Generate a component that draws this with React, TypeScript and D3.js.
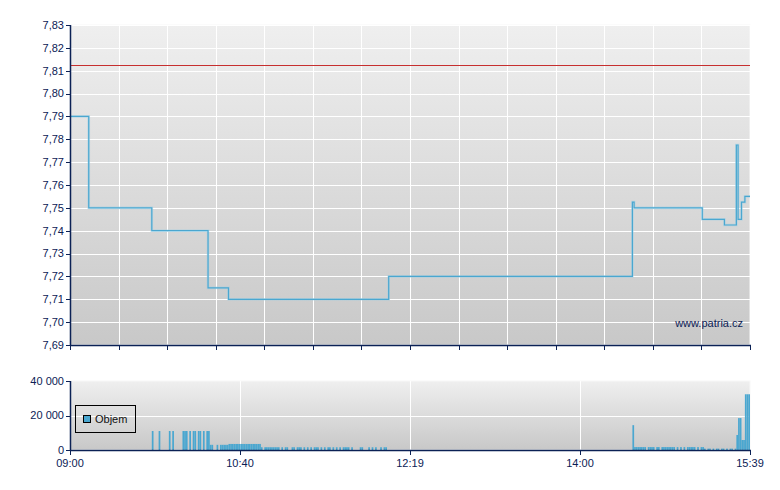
import React from "react";
import * as d3 from "d3";

// ---- data ----
const priceTimes = ["09:00", "09:11", "09:48", "10:21", "10:33", "12:07", "14:30", "14:31", "15:11", "15:24", "15:31", "15:32", "15:34", "15:36", "15:39"];
const priceValues = [7.79, 7.75, 7.74, 7.715, 7.71, 7.72, 7.7525, 7.75, 7.745, 7.7425, 7.7775, 7.745, 7.7525, 7.755, 7.755];
const referencePrice = 7.8125;

const priceTicks = [7.69, 7.7, 7.71, 7.72, 7.73, 7.74, 7.75, 7.76, 7.77, 7.78, 7.79, 7.8, 7.81, 7.82, 7.83];
const volumeTicks = [0, 20000, 40000];
const volumeTickLabels = ["0", "20 000", "40 000"];
const timeLabels = ["09:00", "10:40", "12:19", "14:00", "15:39"];

const volumeTimes = [
  "09:48", "09:52", "09:58", "10:00", "10:06", "10:07", "10:08", "10:10", "10:12", "10:13", "10:15", "10:16", "10:18", "10:20", "10:21",
  "10:22", "10:23", "10:26", "10:28", "10:29", "10:30", "10:31", "10:32",
  "10:33", "10:34", "10:35", "10:36", "10:37", "10:38", "10:39", "10:40", "10:41", "10:42", "10:43", "10:44", "10:45", "10:46", "10:47", "10:48", "10:49", "10:50", "10:51",
  "10:52", "10:54", "10:55", "10:56", "10:57", "10:58", "10:59", "11:00", "11:01", "11:02", "11:04", "11:06", "11:07", "11:10", "11:11", "11:13", "11:14", "11:15",
  "11:17", "11:19", "11:21", "11:23", "11:24", "11:25", "11:27", "11:29", "11:31", "11:32", "11:34", "11:36", "11:38", "11:40", "11:41", "11:42", "11:43", "11:45",
  "11:50", "11:51", "11:55", "11:57", "11:59", "12:02", "12:04", "12:05",
  "14:30", "14:31", "14:32", "14:33", "14:34", "14:35", "14:36", "14:37", "14:39", "14:40", "14:41", "14:42", "14:44", "14:45", "14:47", "14:48", "14:49", "14:50",
  "14:51", "14:52", "14:53", "14:54", "14:56", "14:58", "15:00", "15:02", "15:03", "15:04", "15:05", "15:06", "15:08", "15:10",
  "15:11", "15:12", "15:14", "15:15", "15:17", "15:19", "15:20", "15:22", "15:23", "15:25", "15:27", "15:28", "15:30",
  "15:31", "15:32", "15:33", "15:34", "15:35", "15:36", "15:37", "15:38",
];
const volumeValues = [
  11000, 11000, 11000, 11000, 11000, 11000, 11000, 11000, 11000, 11000, 11000, 11000, 11000, 11000, 11000,
  3000, 3000, 3000, 3000, 3000, 3000, 3000, 3000,
  3500, 3500, 3500, 3500, 3500, 3500, 3500, 3500, 3500, 3500, 3500, 3500, 3500, 3500, 3500, 3500, 3500, 3500, 3500,
  1600, 1600, 1600, 1600, 1600, 1600, 1600, 1600, 1600, 1600, 1600, 1600, 1600, 1600, 1600, 1600, 1600, 1600,
  1600, 1600, 1600, 1600, 1600, 1600, 1600, 1600, 1600, 1600, 1600, 1600, 1600, 1600, 1600, 1600, 1600, 1600,
  1600, 1600, 1600, 1600, 1600, 1600, 1600, 1600,
  14400, 1700, 1700, 1700, 1700, 1700, 1700, 1700, 1700, 1700, 1700, 1700, 1700, 1700, 1700, 1700, 1700, 1700,
  1700, 1700, 1700, 1700, 1700, 1700, 1700, 1700, 1700, 1700, 1700, 1700, 1700, 1700,
  1700, 800, 800, 800, 800, 800, 800, 800, 800, 800, 800, 800, 800,
  8700, 18500, 18500, 5800, 5800, 32300, 32300, 32300,
];

// ---- helpers ----
const toMin = (s: string) => {
  const [h, m] = s.split(":").map(Number);
  return (h - 9) * 60 + m;
};
const SESSION = toMin("15:39");

const NAVY = "#0b2155";
const BLUE = "#4aa7d0";
const FONT = "'Liberation Sans', Arial, sans-serif";

export default function App() {
  const left = 70, right = 750;
  const mTop = 25, mBottom = 345;
  const vTop = 381, vBottom = 450;

  const x = d3.scaleLinear().domain([0, SESSION]).range([left, right]);
  const y = d3.scaleLinear().domain([7.69, 7.83]).range([mBottom, mTop]);
  const yv = d3.scaleLinear().domain([0, 40000]).range([vBottom, vTop]);

  const pts = priceTimes.map((t, i) => [toMin(t), priceValues[i]] as [number, number]);
  const line = d3
    .line<[number, number]>()
    .x((d) => x(d[0]))
    .y((d) => y(d[1]))
    .curve(d3.curveStepAfter)(pts) as string;

  const gridCount = 14;
  const vGrid = d3.range(gridCount + 1).map((i) => x((SESSION * i) / gridCount));
  const labelPos = timeLabels.map((_, i) => x((SESSION * i) / (timeLabels.length - 1)));
  const fmt = (v: number) => d3.format(".2f")(v).replace(".", ",");
  const minW = x(1) - x(0);
  const refY = Math.round(y(referencePrice)) + 0.5;

  return (
    <svg width={780} height={490} style={{ position: "absolute", left: 0, top: 0 }} fontFamily={FONT}>
      <defs>
        <linearGradient id="gMain" x1="0" y1="0" x2="0" y2="1">
          <stop offset="0" stopColor="#efefef" />
          <stop offset="1" stopColor="#c8c8c8" />
        </linearGradient>
        <linearGradient id="gVol" x1="0" y1="0" x2="0" y2="1">
          <stop offset="0" stopColor="#efefef" />
          <stop offset="1" stopColor="#c8c8c8" />
        </linearGradient>
      </defs>
      <rect width={780} height={490} fill="#fff" />

      {/* main plot */}
      <rect x={left} y={mTop} width={right - left} height={mBottom - mTop} fill="url(#gMain)" stroke="#f8f8f8" />
      {priceTicks.map((t) => (
        <line key={"hg" + t} x1={left} x2={right} y1={Math.round(y(t)) + 0.5} y2={Math.round(y(t)) + 0.5} stroke="#fff" />
      ))}
      {vGrid.map((gx, i) => (
        <line key={"vg" + i} x1={Math.round(gx) + 0.5} x2={Math.round(gx) + 0.5} y1={mTop} y2={mBottom} stroke="#fff" />
      ))}
      <line x1={left} x2={right} y1={refY} y2={refY} stroke="#c62f2f" strokeWidth={1} />
      <path d={line} fill="none" stroke="#9fcfe5" strokeWidth={2.6} strokeOpacity={0.55} />
      <path d={line} fill="none" stroke={BLUE} strokeWidth={1.2} />
      <text x={743} y={326.5} textAnchor="end" fontSize={11} fill={NAVY}>www.patria.cz</text>

      {/* main axes */}
      <line x1={left + 0.5} x2={left + 0.5} y1={mTop} y2={mBottom} stroke={NAVY} strokeWidth={1.5} />
      <line x1={left} x2={right + 1} y1={mBottom + 0.5} y2={mBottom + 0.5} stroke={NAVY} strokeWidth={1.5} />
      {priceTicks.map((t) => (
        <g key={"yt" + t}>
          <line x1={left - 4} x2={left} y1={Math.round(y(t)) + 0.5} y2={Math.round(y(t)) + 0.5} stroke={NAVY} />
          <text x={64} y={y(t)} dy="0.35em" textAnchor="end" fontSize={11} fill={NAVY}>{fmt(t)}</text>
        </g>
      ))}
      {vGrid.map((gx, i) => (
        <line key={"xt" + i} x1={Math.round(gx) + 0.5} x2={Math.round(gx) + 0.5} y1={mBottom} y2={mBottom + 5} stroke={NAVY} />
      ))}

      {/* volume plot */}
      <rect x={left} y={vTop} width={right - left} height={vBottom - vTop} fill="url(#gVol)" stroke="#f8f8f8" />
      {volumeTicks.slice(1, -1).map((t) => (
        <line key={"vhg" + t} x1={left} x2={right} y1={Math.round(yv(t)) + 0.5} y2={Math.round(yv(t)) + 0.5} stroke="#fff" />
      ))}
      {labelPos.slice(1, -1).map((gx, i) => (
        <line key={"vvg" + i} x1={Math.round(gx) + 0.5} x2={Math.round(gx) + 0.5} y1={vTop} y2={vBottom} stroke="#fff" />
      ))}
      {volumeTimes.map((t, i) => (
        <rect
          key={"vb" + i}
          x={x(toMin(t))}
          y={yv(volumeValues[i])}
          width={minW}
          height={vBottom - yv(volumeValues[i])}
          fill={BLUE}
        />
      ))}

      {/* legend */}
      <rect x={75.5} y={405.5} width={60} height={27} fill="none" stroke="#000" />
      <rect x={83.5} y={415.5} width={7} height={7} fill={BLUE} stroke="#000" />
      <text x={95} y={423} fontSize={11} fill="#111">Objem</text>

      {/* volume axes */}
      <line x1={left + 0.5} x2={left + 0.5} y1={vTop} y2={vBottom} stroke={NAVY} strokeWidth={1.5} />
      <line x1={left} x2={right + 1} y1={vBottom + 0.5} y2={vBottom + 0.5} stroke={NAVY} strokeWidth={1.5} />
      {volumeTicks.map((t, i) => (
        <g key={"vyt" + t}>
          <line x1={left - 4} x2={left} y1={Math.round(yv(t)) + 0.5} y2={Math.round(yv(t)) + 0.5} stroke={NAVY} />
          <text x={64} y={yv(t)} dy="0.35em" textAnchor="end" fontSize={11} fill={NAVY}>{volumeTickLabels[i]}</text>
        </g>
      ))}
      {labelPos.map((gx, i) => (
        <g key={"vxt" + i}>
          <line x1={Math.round(gx) + 0.5} x2={Math.round(gx) + 0.5} y1={vBottom} y2={vBottom + 5} stroke={NAVY} />
          <text x={gx} y={467} textAnchor="middle" fontSize={11} fill={NAVY}>{timeLabels[i]}</text>
        </g>
      ))}
    </svg>
  );
}
